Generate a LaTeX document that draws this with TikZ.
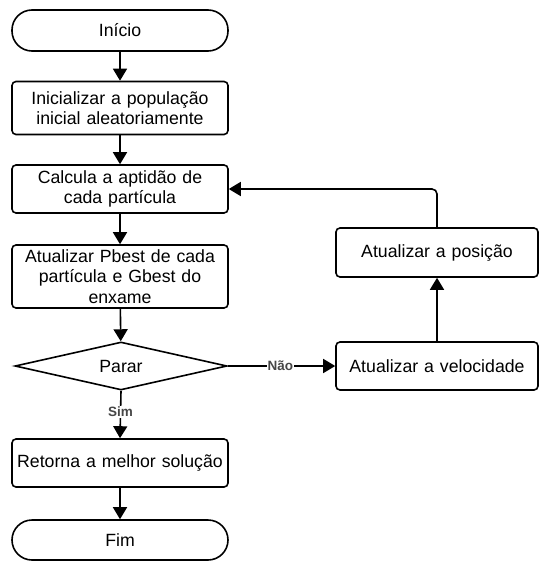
\documentclass[tikz,border=0pt]{standalone}
\usepackage{fontspec}
\setmainfont{Liberation Sans}
\usetikzlibrary{shapes.geometric,arrows.meta}
\begin{document}
\begin{tikzpicture}[x=1pt,y=-1pt,
  every node/.style={font=\fontsize{17.7}{20.5}\selectfont},
  proc/.style={draw, line width=1.6pt, rounded corners=4pt, minimum width=216pt, text width=212pt, align=center, inner sep=0pt},
  term/.style={draw, line width=1.6pt, rounded corners=20pt, minimum width=216pt, align=center, inner sep=0pt},
  dec/.style={draw, line width=1.6pt, diamond, aspect=4.4, minimum width=212pt, minimum height=48pt, inner sep=0pt},
  conn/.style={line width=1.6pt, -{Triangle[width=14pt,length=12pt]}},
  lab/.style={font=\fontsize{13.5}{15}\selectfont\bfseries, text=black!72, fill=white, inner sep=1pt}
]
\useasboundingbox (0,0) rectangle (541,567);
\node[term, minimum height=41pt] (inicio) at (120,30.5) {Início};
\node[proc, minimum height=53pt] (init) at (120,108) {Inicializar a população\\inicial aleatoriamente};
\node[proc, minimum height=48pt] (calc) at (120,189) {Calcula a aptidão de\\cada partícula};
\node[proc, minimum height=63pt] (pbest) at (120,276.5) {Atualizar Pbest de cada\\partícula e Gbest do\\enxame};
\node[dec] (parar) at (121,366) {Parar};
\node[proc, minimum height=48pt] (ret) at (120,463) {Retorna a melhor solução};
\node[term, minimum height=40pt] (fim) at (120,540) {Fim};
\node[proc, minimum width=202pt, text width=196pt, minimum height=48pt] (vel) at (437,366) {Atualizar a velocidade};
\node[proc, minimum width=202pt, text width=196pt, minimum height=49pt] (pos) at (437,252.5) {Atualizar a posição};
\draw[conn] (inicio) -- (init);
\draw[conn] (init) -- (calc);
\draw[conn] (calc) -- (pbest);
\draw[conn] (pbest) -- (parar);
\draw[conn] (parar.south) -- node[lab, pos=0.45] (sim) {Sim} (ret.north);
\draw[conn] (ret) -- (fim);
\draw[conn] (parar.east) -- node[lab, pos=0.49] (nao) {Não} (vel.west);
\draw[conn] (vel) -- (pos);
\draw[conn, rounded corners=5pt] (pos.north) |- (calc.east);
\end{tikzpicture}
\end{document}
